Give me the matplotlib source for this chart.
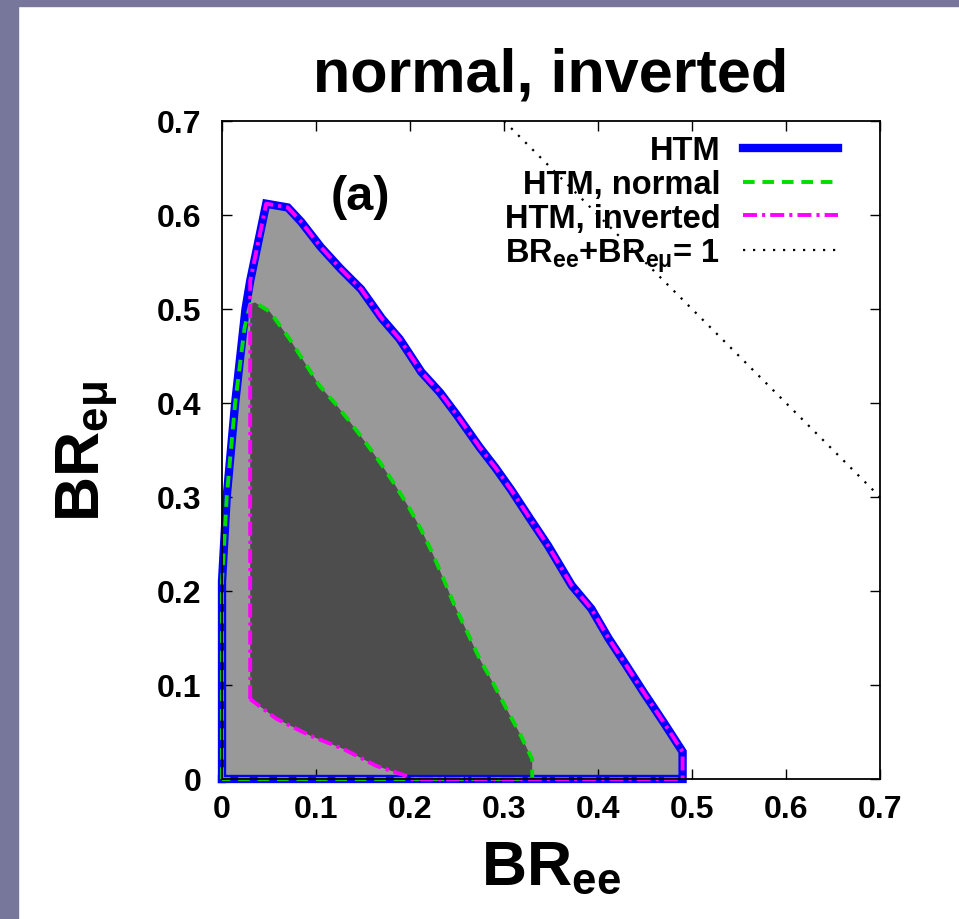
import matplotlib
matplotlib.use("Agg")
import matplotlib.pyplot as plt
from matplotlib.patches import Rectangle, Polygon

plt.rcParams['font.family'] = ['Liberation Sans', 'DejaVu Sans']
plt.rcParams['font.weight'] = 'bold'
plt.rcParams['axes.labelweight'] = 'bold'
plt.rcParams['axes.titleweight'] = 'bold'
plt.rcParams['mathtext.fontset'] = 'custom'
plt.rcParams['mathtext.rm'] = 'Liberation Sans:bold'
plt.rcParams['mathtext.it'] = 'Liberation Sans:bold'
plt.rcParams['mathtext.bf'] = 'Liberation Sans:bold'
plt.rcParams['mathtext.default'] = 'rm'

# ---- data ----
title = "normal, inverted"
tick_vals = [0.0, 0.1, 0.2, 0.3, 0.4, 0.5, 0.6, 0.7]
tick_labels = ["0", "0.1", "0.2", "0.3", "0.4", "0.5", "0.6", "0.7"]

# HTM allowed region boundary
htm_x = [0.0, 0.0, 0.005, 0.014, 0.025, 0.030, 0.047, 0.070, 0.084, 0.105,
         0.126, 0.148, 0.170, 0.189, 0.212, 0.232, 0.250, 0.274, 0.291, 0.308,
         0.327, 0.347, 0.372, 0.393, 0.411, 0.430, 0.448, 0.470, 0.490, 0.490, 0.0]
htm_y = [0.0, 0.21, 0.30, 0.40, 0.50, 0.53, 0.612, 0.608, 0.593, 0.566,
         0.543, 0.521, 0.490, 0.468, 0.433, 0.411, 0.387, 0.353, 0.331, 0.307,
         0.278, 0.248, 0.206, 0.181, 0.150, 0.121, 0.093, 0.060, 0.029, 0.0, 0.0]

# HTM, normal hierarchy boundary
normal_x = [0.0, 0.0, 0.005, 0.014, 0.024, 0.030, 0.035, 0.051, 0.072, 0.088,
            0.104, 0.120, 0.136, 0.152, 0.168, 0.184, 0.200, 0.212, 0.224,
            0.236, 0.246, 0.260, 0.274, 0.289, 0.303, 0.317, 0.330, 0.330, 0.0]
normal_y = [0.0, 0.21, 0.30, 0.40, 0.48, 0.505, 0.507, 0.497, 0.468, 0.443,
            0.418, 0.400, 0.380, 0.359, 0.337, 0.313, 0.287, 0.265, 0.240,
            0.212, 0.188, 0.158, 0.128, 0.101, 0.074, 0.048, 0.021, 0.0, 0.0]

# HTM, inverted hierarchy boundary
inv_x = [0.030, 0.030, 0.047, 0.070, 0.084, 0.105, 0.126, 0.148, 0.170, 0.189,
         0.212, 0.232, 0.250, 0.274, 0.291, 0.308, 0.327, 0.347, 0.372, 0.393,
         0.411, 0.430, 0.448, 0.470, 0.490, 0.490, 0.200, 0.197, 0.164, 0.129,
         0.094, 0.058, 0.030]
inv_y = [0.085, 0.53, 0.612, 0.608, 0.593, 0.566, 0.543, 0.521, 0.490, 0.468,
         0.433, 0.411, 0.387, 0.353, 0.331, 0.307, 0.278, 0.248, 0.206, 0.181,
         0.150, 0.121, 0.093, 0.060, 0.029, 0.0, 0.0, 0.003, 0.014, 0.032,
         0.046, 0.064, 0.085]

# BR_ee + BR_emu = 1
unit_x = [0.3, 0.7]
unit_y = [0.7, 0.3]

labels = ["HTM", "HTM, normal", "HTM, inverted", "BR$_{ee}$+BR$_{eμ}$= 1"]

# ---- figure ----
fig = plt.figure(figsize=(9.59, 9.20), dpi=100)
fig.patches.append(Rectangle((0, 0), 18 / 959, 1, transform=fig.transFigure,
                             color='#77779b', zorder=-10))
fig.patches.append(Rectangle((0, 1 - 7 / 920), 1, 7 / 920, transform=fig.transFigure,
                             color='#77779b', zorder=-10))

ax = fig.add_axes([0.2315, 0.1522, 0.6861, 0.7152])
ax.set_xlim(0, 0.7)
ax.set_ylim(0, 0.7)

# light grey: HTM region
ax.add_patch(Polygon(list(zip(htm_x, htm_y)), closed=True, facecolor='#999999',
                     edgecolor='none', zorder=1))
# dark grey: overlap of normal and inverted regions
i_top = normal_x.index(0.030)
n_part = list(zip(normal_x[i_top:-1], normal_y[i_top:-1]))
i_b = inv_x.index(0.200)
v_part = list(zip(inv_x[i_b:], inv_y[i_b:]))
ax.add_patch(Polygon(n_part + v_part, closed=True, facecolor='#4d4d4d',
                     edgecolor='none', zorder=2))

l1, = ax.plot(htm_x, htm_y, color='#0000ff', lw=6.0, zorder=3, clip_on=False,
              solid_joinstyle='miter')
l2, = ax.plot(normal_x, normal_y, color='#00dd00', lw=2.8, dashes=(3, 2),
              zorder=4, clip_on=False)
l3, = ax.plot(inv_x, inv_y, color='#ff00ff', lw=2.8, dashes=(3.6, 1.3, 0.8, 1.3),
              zorder=5, clip_on=False)
l4, = ax.plot(unit_x, unit_y, color='black', lw=1.6, dashes=(1, 3.5), zorder=3)

ax.set_xticks(tick_vals)
ax.set_xticklabels(tick_labels)
ax.set_yticks(tick_vals)
ax.set_yticklabels(tick_labels)
ax.tick_params(direction='in', length=7, width=1.0, top=True, right=True,
               labelsize=23)
ax.tick_params(axis='x', pad=11)
ax.tick_params(axis='y', pad=15)
for s in ax.spines.values():
    s.set_linewidth(1.3)
    s.set_zorder(6)

ax.set_title(title, fontsize=44, fontweight='bold', pad=22)
ax.set_xlabel("BR$_{ee}$", fontsize=45, fontweight='bold')
ax.xaxis.set_label_coords(0.5, -0.09)
ax.set_ylabel("BR$_{eμ}$", fontsize=45, fontweight='bold')
ax.yaxis.set_label_coords(-0.155, 0.5)

ax.text(0.147, 0.62, "(a)", fontsize=35, fontweight='bold', ha='center',
        va='center', zorder=7)

leg = ax.legend([l1, l2, l3, l4], labels, loc='upper right',
                bbox_to_anchor=(0.936, 0.978), frameon=False, markerfirst=False,
                handlelength=2.9, handletextpad=0.7, labelspacing=0.08,
                borderaxespad=0, borderpad=0, fontsize=23.5)

fig.savefig("out.png", dpi=100)
